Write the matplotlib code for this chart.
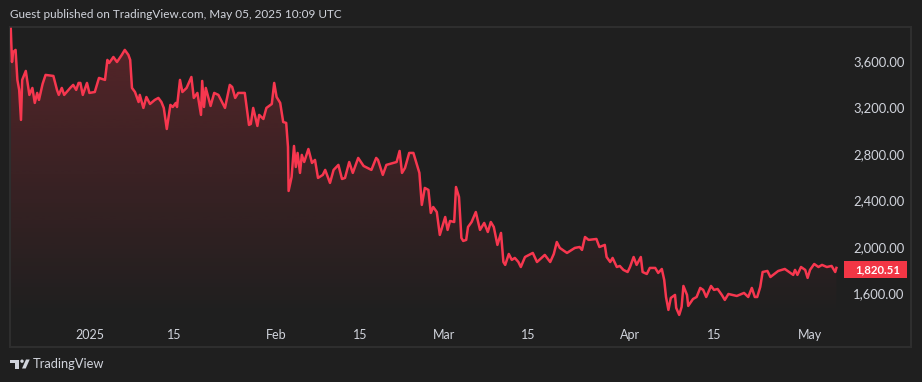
import matplotlib
matplotlib.use("Agg")
import matplotlib.pyplot as plt
from matplotlib.patches import Rectangle, Polygon, Ellipse
import numpy as np

plt.rcParams['font.family'] = ['Lato', 'DejaVu Sans']

# days counted from 2025-01-01, prices
dec_days = [-13.2,-13,-12.8,-12.4,-12.1,-11.8,-11.5,-11.3,-10.7,-10.4,-10.1,-9.6,-9.2,-8.8,-8.5,-7.9,-7.4,-6.1,-5.5,-5.2,-4.7,-4.3,-3.3,-2.8,-2.3,-1.9,-1.6,-1.2,-0.5,-0.1]
dec_prices = [3875,3591,3677,3695,3437,3351,3093,3437,3514,3411,3308,3368,3239,3325,3265,3402,3480,3471,3351,3308,3368,3308,3368,3394,3351,3411,3411,3308,3411,3325]

jan_days = [0.8,1.5,2.5,2.9,3.2,3.9,4.5,5.3,5.8,6.4,6.7,7,7.5,8.1,8.3,8.9,9.4,10,10.8,11.4,11.9,12.3,12.8,13.2,13.4,13.8,14.3,14.5,15,15.4,16.1,16.9,17.3,17.9,18.5,18.7,19,19.3,20.1,20.7,21.4,22.5,23.3,23.7,24.2,24.7,25.8,26.5,26.8,27.2,27.9,28.2,28.9,29.4,30.3,30.7]
jan_prices = [3333,3454,3437,3609,3583,3634,3591,3652,3695,3652,3609,3368,3333,3247,3308,3196,3290,3230,3265,3282,3247,3196,3015,3153,3222,3204,3239,3204,3437,3333,3368,3462,3282,3325,3136,3428,3204,3368,3213,3325,3308,3196,3394,3376,3282,3325,3325,3050,3058,3196,3041,3136,3101,3196,3230,3411]

feb_days = [31.1,31.7,32.2,32.7,33,33.1,33.6,34,34.3,34.6,35,35.3,35.7,36.4,37,37.5,38,38.8,39.2,40,40.6,41.4,42,42.5,43.2,43.8,44.7,45.6,46.9,47.7,48,48.8,49.4,51.1,51.6,52,52.5,53.2,53.9,54.9,55.3,55.8,56.4,56.8,57.2,57.8,58.3]
feb_prices = [3290,3239,3075,3067,2860,2482,2602,2869,2688,2809,2637,2792,2731,2843,2723,2749,2594,2620,2663,2551,2663,2706,2585,2594,2731,2637,2766,2697,2663,2766,2749,2620,2706,2731,2826,2637,2680,2809,2809,2637,2362,2508,2491,2293,2344,2301,2104]

mar_days = [59.2,59.6,60,60.7,61,61.5,61.9,62.2,62.7,63,63.6,64.3,65,65.7,66.3,66.8,67.3,67.9,68.5,68.9,69.2,69.8,70.3,70.8,71.4,71.8,72.5,73.8,74.5,75.8,76.7,77.3,77.8,78.3,79.5,80.8,81.6,82,82.5,83.1,84.4,84.9,85.8,86.1,86.7,87.1,87.8,88.3,88.9,89.6]
mar_prices = [2258,2147,2224,2215,2516,2430,2078,2052,2061,2172,2215,2301,2147,2207,2129,2215,2172,2018,2121,1871,1846,1940,1889,1906,1871,1828,1914,1949,1871,1932,1871,1940,2043,1992,1949,1992,2000,1975,2086,2061,2069,2000,2018,1914,1871,1906,1828,1837,1803,1785]

apr_days = [90,90.6,91.1,91.8,92.1,92.8,93.3,94.2,94.7,95.3,95.7,96,96.4,96.8,97.5,97.7,98.2,98.6,98.9,99.5,99.7,100.5,101.1,101.7,102.2,102.7,103.5,104,104.6,105.3,105.8,106.4,107.8,109,109.7,110.3,110.8,111.2,111.7,112.1,112.9,113.4,114.7,115.8,117.2,117.5,117.9,118.5,119.2,119.6]
apr_prices = [1828,1914,1846,1914,1785,1768,1820,1820,1777,1811,1717,1570,1459,1562,1588,1476,1416,1484,1665,1588,1493,1553,1570,1648,1631,1570,1665,1631,1639,1588,1545,1596,1579,1605,1570,1648,1570,1570,1656,1785,1794,1742,1794,1811,1760,1803,1760,1828,1803,1734]

may_days = [120,120.7,121.4,122,122.8,123.6,124.2,124.4]
may_prices = [1803,1854,1828,1846,1828,1837,1785,1820.51]

tick_days = [0,14,31,45,59,73,90,104,120]
tick_labels = ['2025','15','Feb','15','Mar','15','Apr','15','May']
price_ticks = [1600,2000,2400,2800,3200,3600]
last_price = 1820.51

days = dec_days + jan_days + feb_days + mar_days + apr_days + may_days
prices = dec_prices + jan_prices + feb_prices + mar_prices + apr_prices + may_prices

BG = '#1f1f1f'
BORDER = '#2e2e2e'
TXT = '#d1d4dc'
RED = '#f7374f'
W, H = 922, 382

fig = plt.figure(figsize=(W/100, H/100), dpi=100, facecolor=BG)
ax = fig.add_axes([10/W, 1-347/H, 901/W, 320/H], facecolor=BG)
xlim = (-13.33, 136.83)
ylim = (1140, 3892)

# gradient under the line
grad = np.zeros((256, 1, 4))
grad[:, 0, :3] = matplotlib.colors.to_rgb('#f23645')
grad[:, 0, 3] = np.linspace(0.27, 0.0, 256)
fill_bottom = 1400
im = ax.imshow(grad, extent=[xlim[0], days[-1], fill_bottom, 3892], aspect='auto', zorder=1, origin='upper')
shape = ax.fill_between(days, prices, fill_bottom, color='none')
im.set_clip_path(shape.get_paths()[0], transform=ax.transData)

ax.plot(days, prices, color=RED, lw=1.8, zorder=3, solid_joinstyle='round')
ax.set_xlim(xlim)
ax.set_ylim(ylim)

ax.set_xticks(tick_days)
ax.set_xticklabels(tick_labels)
ax.set_yticks(price_ticks)
ax.set_yticklabels(['{:,.2f}'.format(p) for p in price_ticks], ha='right')
ax.yaxis.tick_right()
ax.tick_params(axis='x', length=0, pad=-13, labelsize=9, labelcolor=TXT)
ax.tick_params(axis='y', length=0, pad=-4.5, labelsize=9.4, labelcolor=TXT)
for s in ax.spines.values():
    s.set_color(BORDER)
    s.set_linewidth(1.5)

# last price tag
fig.patches.append(Rectangle((844/W, 1-278/H), 63/W, 17/H, transform=fig.transFigure, fc='#f23645', ec='none', zorder=5))
fig.text(900/W, 1-269.5/H, '{:,.2f}'.format(last_price), color='white', fontsize=8.2,
         fontweight='bold', ha='right', va='center', zorder=6)

fig.text(10/W, 1-14.5/H, 'Guest published on TradingView.com, May 05, 2025 10:09 UTC', color=TXT,
         fontsize=8.5, ha='left', va='center')

# logo
def px(x, y):
    return (x/W, 1-y/H)
logo = [Polygon([px(10,359.5), px(19,359.5), px(19,368.5), px(15,368.5), px(15,363), px(10,363)]),
        Polygon([px(22,368.5), px(26,359.5), px(29.7,359.5), px(25.7,368.5)]),
        Ellipse(px(22,361.2), 3.4/W, 3.4/H)]
for item in logo:
    item.set_transform(fig.transFigure)
    item.set_facecolor(TXT)
    item.set_edgecolor('none')
    fig.patches.append(item)
fig.text(33/W, 1-364.5/H, 'TradingView', color=TXT, fontsize=9.3, ha='left', va='center')

fig.savefig('out.png', dpi=100, facecolor=BG)
plt.close(fig)
